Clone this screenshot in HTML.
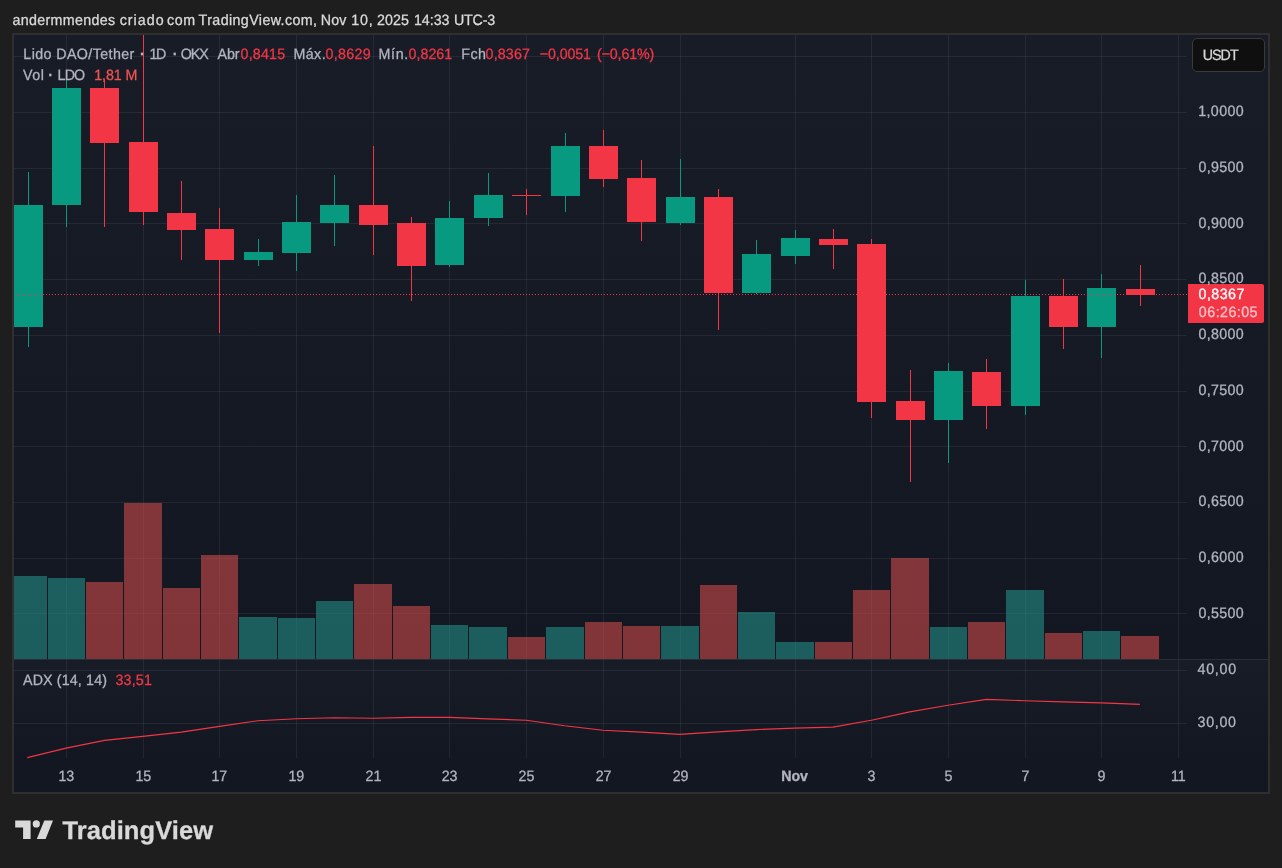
<!DOCTYPE html>
<html lang="pt"><head><meta charset="utf-8"><title>LDOUSDT</title>
<style>
html,body{margin:0;padding:0;}
body{width:1282px;height:868px;background:#1e1e1e;position:relative;overflow:hidden;font-family:"Liberation Sans",Arial,sans-serif;}
.frame{position:absolute;left:12px;top:33px;width:1254px;height:757px;border:2px solid #2f2f2f;}
.txt{position:absolute;left:0;top:0;width:1282px;height:868px;will-change:transform;}
.t{position:absolute;white-space:pre;transform-origin:0 0;-webkit-text-stroke:0.3px currentColor;text-rendering:geometricPrecision;}
.usdt{position:absolute;left:1192px;top:38px;width:71px;height:32px;border:1px solid #3a3a3a;border-radius:5px;background:#0f0f0f;}
.plab{position:absolute;left:1188px;top:284px;width:76px;height:39px;background:#f23645;border-radius:0 2px 2px 0;}
</style></head><body>
<div class="frame"></div>
<svg width="1254" height="757" viewBox="14 35 1254 757" shape-rendering="crispEdges" style="position:absolute;left:14px;top:35px">
<defs><linearGradient id="g1" x1="0" y1="0" x2="0" y2="1"><stop offset="0" stop-color="#181c27"/><stop offset="1" stop-color="#131722"/></linearGradient></defs>
<rect x="14" y="35" width="1254" height="624" fill="url(#g1)"/>
<rect x="14" y="660" width="1254" height="98" fill="url(#g1)"/>
<rect x="14" y="758" width="1254" height="34" fill="#131722"/>
<g fill="rgba(240,243,250,0.065)">
<rect x="66" y="35" width="1" height="624"/><rect x="66" y="660" width="1" height="98"/>
<rect x="143" y="35" width="1" height="624"/><rect x="143" y="660" width="1" height="98"/>
<rect x="219" y="35" width="1" height="624"/><rect x="219" y="660" width="1" height="98"/>
<rect x="296" y="35" width="1" height="624"/><rect x="296" y="660" width="1" height="98"/>
<rect x="373" y="35" width="1" height="624"/><rect x="373" y="660" width="1" height="98"/>
<rect x="449" y="35" width="1" height="624"/><rect x="449" y="660" width="1" height="98"/>
<rect x="526" y="35" width="1" height="624"/><rect x="526" y="660" width="1" height="98"/>
<rect x="603" y="35" width="1" height="624"/><rect x="603" y="660" width="1" height="98"/>
<rect x="680" y="35" width="1" height="624"/><rect x="680" y="660" width="1" height="98"/>
<rect x="795" y="35" width="1" height="624"/><rect x="795" y="660" width="1" height="98"/>
<rect x="871" y="35" width="1" height="624"/><rect x="871" y="660" width="1" height="98"/>
<rect x="948" y="35" width="1" height="624"/><rect x="948" y="660" width="1" height="98"/>
<rect x="1025" y="35" width="1" height="624"/><rect x="1025" y="660" width="1" height="98"/>
<rect x="1101" y="35" width="1" height="624"/><rect x="1101" y="660" width="1" height="98"/>
<rect x="1178" y="35" width="1" height="624"/><rect x="1178" y="660" width="1" height="98"/>
<rect x="14" y="56" width="1173" height="1"/>
<rect x="14" y="112" width="1173" height="1"/>
<rect x="14" y="168" width="1173" height="1"/>
<rect x="14" y="223" width="1173" height="1"/>
<rect x="14" y="279" width="1173" height="1"/>
<rect x="14" y="335" width="1173" height="1"/>
<rect x="14" y="391" width="1173" height="1"/>
<rect x="14" y="446" width="1173" height="1"/>
<rect x="14" y="502" width="1173" height="1"/>
<rect x="14" y="558" width="1173" height="1"/>
<rect x="14" y="613" width="1173" height="1"/>
<rect x="14" y="670" width="1173" height="1"/>
<rect x="14" y="723" width="1173" height="1"/>
</g>
<rect x="14" y="659" width="1254" height="1" fill="#2a2e39"/>
<rect x="14" y="576" width="33" height="83" fill="rgba(38,166,154,0.5)"/>
<rect x="48" y="578" width="37" height="81" fill="rgba(38,166,154,0.5)"/>
<rect x="86" y="582" width="37" height="77" fill="rgba(239,83,80,0.5)"/>
<rect x="124" y="503" width="38" height="156" fill="rgba(239,83,80,0.5)"/>
<rect x="163" y="588" width="37" height="71" fill="rgba(239,83,80,0.5)"/>
<rect x="201" y="555" width="37" height="104" fill="rgba(239,83,80,0.5)"/>
<rect x="239" y="617" width="38" height="42" fill="rgba(38,166,154,0.5)"/>
<rect x="278" y="618" width="37" height="41" fill="rgba(38,166,154,0.5)"/>
<rect x="316" y="601" width="37" height="58" fill="rgba(38,166,154,0.5)"/>
<rect x="354" y="584" width="38" height="75" fill="rgba(239,83,80,0.5)"/>
<rect x="393" y="606" width="37" height="53" fill="rgba(239,83,80,0.5)"/>
<rect x="431" y="625" width="37" height="34" fill="rgba(38,166,154,0.5)"/>
<rect x="469" y="627" width="38" height="32" fill="rgba(38,166,154,0.5)"/>
<rect x="508" y="637" width="37" height="22" fill="rgba(239,83,80,0.5)"/>
<rect x="546" y="627" width="38" height="32" fill="rgba(38,166,154,0.5)"/>
<rect x="585" y="622" width="37" height="37" fill="rgba(239,83,80,0.5)"/>
<rect x="623" y="626" width="37" height="33" fill="rgba(239,83,80,0.5)"/>
<rect x="661" y="626" width="38" height="33" fill="rgba(38,166,154,0.5)"/>
<rect x="700" y="585" width="37" height="74" fill="rgba(239,83,80,0.5)"/>
<rect x="738" y="612" width="37" height="47" fill="rgba(38,166,154,0.5)"/>
<rect x="776" y="642" width="38" height="17" fill="rgba(38,166,154,0.5)"/>
<rect x="815" y="642" width="37" height="17" fill="rgba(239,83,80,0.5)"/>
<rect x="853" y="590" width="37" height="69" fill="rgba(239,83,80,0.5)"/>
<rect x="891" y="558" width="38" height="101" fill="rgba(239,83,80,0.5)"/>
<rect x="930" y="627" width="37" height="32" fill="rgba(38,166,154,0.5)"/>
<rect x="968" y="622" width="37" height="37" fill="rgba(239,83,80,0.5)"/>
<rect x="1006" y="590" width="38" height="69" fill="rgba(38,166,154,0.5)"/>
<rect x="1045" y="633" width="37" height="26" fill="rgba(239,83,80,0.5)"/>
<rect x="1083" y="631" width="37" height="28" fill="rgba(38,166,154,0.5)"/>
<rect x="1121" y="636" width="38" height="23" fill="rgba(239,83,80,0.5)"/>
<rect x="28" y="172" width="1" height="175" fill="#089981"/><rect x="14" y="205" width="29" height="122" fill="#089981"/>
<rect x="66" y="78" width="1" height="149" fill="#089981"/><rect x="52" y="88" width="29" height="117" fill="#089981"/>
<rect x="104" y="80" width="1" height="147" fill="#f23645"/><rect x="90" y="88" width="29" height="55" fill="#f23645"/>
<rect x="143" y="35" width="1" height="190" fill="#f23645"/><rect x="129" y="142" width="29" height="70" fill="#f23645"/>
<rect x="181" y="181" width="1" height="79" fill="#f23645"/><rect x="167" y="213" width="29" height="17" fill="#f23645"/>
<rect x="219" y="208" width="1" height="125" fill="#f23645"/><rect x="205" y="229" width="29" height="31" fill="#f23645"/>
<rect x="258" y="239" width="1" height="27" fill="#089981"/><rect x="244" y="252" width="29" height="8" fill="#089981"/>
<rect x="296" y="195" width="1" height="76" fill="#089981"/><rect x="282" y="222" width="29" height="31" fill="#089981"/>
<rect x="334" y="175" width="1" height="71" fill="#089981"/><rect x="320" y="205" width="29" height="18" fill="#089981"/>
<rect x="373" y="146" width="1" height="109" fill="#f23645"/><rect x="359" y="205" width="29" height="20" fill="#f23645"/>
<rect x="411" y="217" width="1" height="84" fill="#f23645"/><rect x="397" y="223" width="29" height="43" fill="#f23645"/>
<rect x="449" y="201" width="1" height="66" fill="#089981"/><rect x="435" y="218" width="29" height="47" fill="#089981"/>
<rect x="488" y="173" width="1" height="53" fill="#089981"/><rect x="474" y="195" width="29" height="23" fill="#089981"/>
<rect x="526" y="189" width="1" height="26" fill="#f23645"/><rect x="512" y="195" width="29" height="1" fill="#f23645"/>
<rect x="565" y="133" width="1" height="79" fill="#089981"/><rect x="551" y="146" width="29" height="50" fill="#089981"/>
<rect x="603" y="130" width="1" height="57" fill="#f23645"/><rect x="589" y="146" width="29" height="33" fill="#f23645"/>
<rect x="641" y="160" width="1" height="81" fill="#f23645"/><rect x="627" y="178" width="29" height="44" fill="#f23645"/>
<rect x="680" y="159" width="1" height="66" fill="#089981"/><rect x="666" y="197" width="29" height="26" fill="#089981"/>
<rect x="718" y="189" width="1" height="141" fill="#f23645"/><rect x="704" y="197" width="29" height="96" fill="#f23645"/>
<rect x="756" y="240" width="1" height="54" fill="#089981"/><rect x="742" y="254" width="29" height="39" fill="#089981"/>
<rect x="795" y="230" width="1" height="34" fill="#089981"/><rect x="781" y="238" width="29" height="18" fill="#089981"/>
<rect x="833" y="229" width="1" height="40" fill="#f23645"/><rect x="819" y="239" width="29" height="6" fill="#f23645"/>
<rect x="871" y="239" width="1" height="179" fill="#f23645"/><rect x="857" y="244" width="29" height="158" fill="#f23645"/>
<rect x="910" y="370" width="1" height="112" fill="#f23645"/><rect x="896" y="401" width="29" height="19" fill="#f23645"/>
<rect x="948" y="363" width="1" height="100" fill="#089981"/><rect x="934" y="371" width="29" height="49" fill="#089981"/>
<rect x="986" y="359" width="1" height="70" fill="#f23645"/><rect x="972" y="372" width="29" height="34" fill="#f23645"/>
<rect x="1025" y="280" width="1" height="135" fill="#089981"/><rect x="1011" y="296" width="29" height="110" fill="#089981"/>
<rect x="1063" y="279" width="1" height="70" fill="#f23645"/><rect x="1049" y="296" width="29" height="31" fill="#f23645"/>
<rect x="1101" y="274" width="1" height="84" fill="#089981"/><rect x="1087" y="288" width="29" height="39" fill="#089981"/>
<rect x="1140" y="265" width="1" height="41" fill="#f23645"/><rect x="1126" y="289" width="29" height="6" fill="#f23645"/>
<line x1="16" y1="294.5" x2="1188" y2="294.5" stroke="#f23645" stroke-width="1" stroke-dasharray="1 2"/>
<polyline points="27.3,757.6 66.1,748.1 104.5,740.4 142.8,736.4 181.2,732.1 219.5,726.4 257.9,720.7 296.2,718.7 334.5,717.8 372.9,718.2 411.2,717.4 449.6,717.4 487.9,718.9 526.3,720.2 564.6,725.7 602.9,730.3 641.3,732.1 679.6,734.4 718.0,731.9 756.3,729.6 794.7,728.1 833.0,727.1 871.4,720.2 909.7,711.9 948.0,705.2 986.4,699.4 1024.7,700.7 1063.1,701.9 1101.4,702.9 1139.8,704.4" fill="none" stroke="#f23645" stroke-width="1.15" stroke-linejoin="round" shape-rendering="geometricPrecision"/>
</svg>
<div class="usdt"></div>
<div class="plab"></div>
<svg style="position:absolute;left:15px;top:816px" width="38" height="28" viewBox="0 0 38 28"><g fill="#d9d9d9"><path d="M15.6 23H8.1V11.4H0.2V4.4H15.6z"/><circle cx="21.3" cy="7.9" r="3.6"/><path d="M30.6 23h-8.8L29.3 4.4h8.7z"/></g></svg>
<div class="txt">
<span class="t" style="left:12px;top:11px;font-size:15px;line-height:19px;color:#dadada;letter-spacing:0.35px;transform:translateX(0.51px) scaleX(0.95);">andermmendes</span>
<span class="t" style="left:119px;top:11px;font-size:15px;line-height:19px;color:#dadada;letter-spacing:1.08px;transform:translateX(0.63px) scaleX(0.95);">criado</span>
<span class="t" style="left:166px;top:11px;font-size:15px;line-height:19px;color:#dadada;letter-spacing:0.60px;transform:translateX(0.98px) scaleX(0.95);">com</span>
<span class="t" style="left:198px;top:11px;font-size:15px;line-height:19px;color:#dadada;letter-spacing:0.42px;transform:translateX(0.59px) scaleX(0.95);">TradingView.com,</span>
<span class="t" style="left:320px;top:11px;font-size:15px;line-height:19px;color:#dadada;letter-spacing:0.25px;transform:translateX(0.63px) scaleX(0.95);">Nov</span>
<span class="t" style="left:351px;top:11px;font-size:15px;line-height:19px;color:#dadada;letter-spacing:0.78px;transform:translateX(0.36px) scaleX(0.95);">10,</span>
<span class="t" style="left:376px;top:11px;font-size:15px;line-height:19px;color:#dadada;letter-spacing:0.05px;transform:translateX(0.99px) scaleX(0.95);">2025</span>
<span class="t" style="left:413px;top:11px;font-size:15px;line-height:19px;color:#dadada;letter-spacing:-0.02px;transform:translateX(0.90px) scaleX(0.95);">14:33</span>
<span class="t" style="left:453px;top:11px;font-size:15px;line-height:19px;color:#dadada;letter-spacing:-0.20px;transform:translateX(0.95px) scaleX(0.95);">UTC-3</span>
<span class="t" style="left:23px;top:45px;font-size:15px;line-height:19px;color:#b2b5be;letter-spacing:0.42px;transform:translateX(0.36px) scaleX(0.95);">Lido DAO/Tether</span>
<span class="t" style="left:140px;top:45px;font-size:15px;line-height:19px;color:#b2b5be;letter-spacing:0.00px;font-weight:700;transform:translateX(0.10px) scaleX(0.95);">·</span>
<span class="t" style="left:149px;top:45px;font-size:15px;line-height:19px;color:#b2b5be;letter-spacing:-1.33px;transform:translateX(0.41px) scaleX(0.95);">1D</span>
<span class="t" style="left:172px;top:45px;font-size:15px;line-height:19px;color:#b2b5be;letter-spacing:0.00px;font-weight:700;transform:translateX(0.64px) scaleX(0.95);">·</span>
<span class="t" style="left:180px;top:45px;font-size:15px;line-height:19px;color:#b2b5be;letter-spacing:-1.14px;transform:translateX(0.86px) scaleX(0.95);">OKX</span>
<span class="t" style="left:217px;top:45px;font-size:15px;line-height:19px;color:#b2b5be;letter-spacing:-0.12px;transform:translateX(0.61px) scaleX(0.95);">Abr</span>
<span class="t" style="left:240px;top:45px;font-size:15px;line-height:19px;color:#f23645;letter-spacing:0.19px;transform:translateX(0.58px) scaleX(0.95);">0,8415</span>
<span class="t" style="left:293px;top:45px;font-size:15px;line-height:19px;color:#b2b5be;letter-spacing:0.49px;transform:translateX(0.39px) scaleX(0.95);">Máx.</span>
<span class="t" style="left:325px;top:45px;font-size:15px;line-height:19px;color:#f23645;letter-spacing:0.33px;transform:translateX(0.58px) scaleX(0.95);">0,8629</span>
<span class="t" style="left:378px;top:45px;font-size:15px;line-height:19px;color:#b2b5be;letter-spacing:0.67px;transform:translateX(0.59px) scaleX(0.95);">Mín.</span>
<span class="t" style="left:408px;top:45px;font-size:15px;line-height:19px;color:#f23645;letter-spacing:0.01px;transform:translateX(0.58px) scaleX(0.95);">0,8261</span>
<span class="t" style="left:461px;top:45px;font-size:15px;line-height:19px;color:#b2b5be;letter-spacing:0.37px;transform:translateX(0.36px) scaleX(0.95);">Fch</span>
<span class="t" style="left:485px;top:45px;font-size:15px;line-height:19px;color:#f23645;letter-spacing:0.15px;transform:translateX(0.58px) scaleX(0.95);">0,8367</span>
<span class="t" style="left:539px;top:45px;font-size:15px;line-height:19px;color:#f23645;letter-spacing:-0.10px;transform:translateX(0.71px) scaleX(0.95);">−0,0051</span>
<span class="t" style="left:597px;top:45px;font-size:15px;line-height:19px;color:#f23645;letter-spacing:-0.16px;transform:translateX(0.04px) scaleX(0.95);">(−0,61%)</span>
<span class="t" style="left:23px;top:66px;font-size:15px;line-height:19px;color:#b2b5be;letter-spacing:0.55px;transform:translateX(0.11px) scaleX(0.95);">Vol</span>
<span class="t" style="left:48px;top:66px;font-size:15px;line-height:19px;color:#b2b5be;letter-spacing:0.00px;font-weight:700;transform:translateX(0.31px) scaleX(0.95);">·</span>
<span class="t" style="left:57px;top:66px;font-size:15px;line-height:19px;color:#b2b5be;letter-spacing:-0.91px;transform:translateX(0.59px) scaleX(0.95);">LDO</span>
<span class="t" style="left:94px;top:66px;font-size:15px;line-height:19px;color:#ef5350;letter-spacing:-0.10px;transform:translateX(0.24px) scaleX(0.95);">1,81 M</span>
<span class="t" style="left:23px;top:671px;font-size:15px;line-height:19px;color:#b2b5be;letter-spacing:0.15px;transform:translateX(0.02px) scaleX(0.95);">ADX (14, 14)</span>
<span class="t" style="left:115px;top:671px;font-size:15px;line-height:19px;color:#f23645;letter-spacing:0.21px;transform:translateX(0.38px) scaleX(0.95);">33,51</span>
<span class="t" style="left:1198px;top:102px;font-size:15px;line-height:19px;color:#b2b5be;letter-spacing:0.43px;transform:translateX(0.17px) scaleX(0.95);">1,0000</span>
<span class="t" style="left:1198px;top:158px;font-size:15px;line-height:19px;color:#b2b5be;letter-spacing:0.33px;transform:translateX(0.61px) scaleX(0.95);">0,9500</span>
<span class="t" style="left:1198px;top:214px;font-size:15px;line-height:19px;color:#b2b5be;letter-spacing:0.33px;transform:translateX(0.61px) scaleX(0.95);">0,9000</span>
<span class="t" style="left:1198px;top:269px;font-size:15px;line-height:19px;color:#b2b5be;letter-spacing:0.33px;transform:translateX(0.61px) scaleX(0.95);">0,8500</span>
<span class="t" style="left:1198px;top:325px;font-size:15px;line-height:19px;color:#b2b5be;letter-spacing:0.33px;transform:translateX(0.61px) scaleX(0.95);">0,8000</span>
<span class="t" style="left:1198px;top:381px;font-size:15px;line-height:19px;color:#b2b5be;letter-spacing:0.33px;transform:translateX(0.61px) scaleX(0.95);">0,7500</span>
<span class="t" style="left:1198px;top:437px;font-size:15px;line-height:19px;color:#b2b5be;letter-spacing:0.33px;transform:translateX(0.61px) scaleX(0.95);">0,7000</span>
<span class="t" style="left:1198px;top:492px;font-size:15px;line-height:19px;color:#b2b5be;letter-spacing:0.33px;transform:translateX(0.61px) scaleX(0.95);">0,6500</span>
<span class="t" style="left:1198px;top:548px;font-size:15px;line-height:19px;color:#b2b5be;letter-spacing:0.33px;transform:translateX(0.61px) scaleX(0.95);">0,6000</span>
<span class="t" style="left:1198px;top:604px;font-size:15px;line-height:19px;color:#b2b5be;letter-spacing:0.33px;transform:translateX(0.61px) scaleX(0.95);">0,5500</span>
<span class="t" style="left:1197px;top:660px;font-size:15px;line-height:19px;color:#b2b5be;letter-spacing:0.78px;transform:translateX(0.51px) scaleX(0.95);">40,00</span>
<span class="t" style="left:1197px;top:713px;font-size:15px;line-height:19px;color:#b2b5be;letter-spacing:0.71px;transform:translateX(0.61px) scaleX(0.95);">30,00</span>
<span class="t" style="left:1198px;top:285px;font-size:15px;line-height:19px;color:#ffffff;letter-spacing:0.47px;transform:translateX(0.58px) scaleX(0.95);">0,8367</span>
<span class="t" style="left:1198px;top:303px;font-size:15px;line-height:19px;color:#fbc3c8;letter-spacing:0.48px;transform:translateX(0.87px) scaleX(0.95);">06:26:05</span>
<span class="t" style="left:1202px;top:46px;font-size:15px;line-height:19px;color:#d6d6d6;letter-spacing:-1.04px;transform:translateX(0.80px) scaleX(0.95);">USDT</span>
<span class="t" style="left:58px;top:767px;font-size:15px;line-height:19px;color:#b2b5be;letter-spacing:0.00px;transform:translateX(0.43px) scaleX(0.95);">13</span>
<span class="t" style="left:135px;top:767px;font-size:15px;line-height:19px;color:#b2b5be;letter-spacing:0.00px;transform:translateX(0.40px) scaleX(0.95);">15</span>
<span class="t" style="left:211px;top:767px;font-size:15px;line-height:19px;color:#b2b5be;letter-spacing:0.00px;transform:translateX(0.44px) scaleX(0.95);">17</span>
<span class="t" style="left:288px;top:767px;font-size:15px;line-height:19px;color:#b2b5be;letter-spacing:0.00px;transform:translateX(0.41px) scaleX(0.95);">19</span>
<span class="t" style="left:365px;top:767px;font-size:15px;line-height:19px;color:#b2b5be;letter-spacing:0.00px;transform:translateX(0.58px) scaleX(0.95);">21</span>
<span class="t" style="left:441px;top:767px;font-size:15px;line-height:19px;color:#b2b5be;letter-spacing:0.00px;transform:translateX(0.64px) scaleX(0.95);">23</span>
<span class="t" style="left:518px;top:767px;font-size:15px;line-height:19px;color:#b2b5be;letter-spacing:0.00px;transform:translateX(0.54px) scaleX(0.95);">25</span>
<span class="t" style="left:595px;top:767px;font-size:15px;line-height:19px;color:#b2b5be;letter-spacing:0.00px;transform:translateX(0.67px) scaleX(0.95);">27</span>
<span class="t" style="left:672px;top:767px;font-size:15px;line-height:19px;color:#b2b5be;letter-spacing:0.00px;transform:translateX(0.63px) scaleX(0.95);">29</span>
<span class="t" style="left:781px;top:767px;font-size:15px;line-height:19px;color:#b2b5be;letter-spacing:-0.14px;font-weight:700;transform:translateX(0.25px) scaleX(0.95);">Nov</span>
<span class="t" style="left:867px;top:767px;font-size:15px;line-height:19px;color:#b2b5be;letter-spacing:0.00px;transform:translateX(0.42px) scaleX(0.95);">3</span>
<span class="t" style="left:944px;top:767px;font-size:15px;line-height:19px;color:#b2b5be;letter-spacing:0.00px;transform:translateX(0.41px) scaleX(0.95);">5</span>
<span class="t" style="left:1021px;top:767px;font-size:15px;line-height:19px;color:#b2b5be;letter-spacing:0.00px;transform:translateX(0.41px) scaleX(0.95);">7</span>
<span class="t" style="left:1097px;top:767px;font-size:15px;line-height:19px;color:#b2b5be;letter-spacing:0.00px;transform:translateX(0.52px) scaleX(0.95);">9</span>
<span class="t" style="left:1170px;top:767px;font-size:15px;line-height:19px;color:#b2b5be;letter-spacing:0.00px;transform:translateX(0.88px) scaleX(0.95);">11</span>
<span class="t" style="left:62px;top:816px;font-size:25.5px;line-height:30px;color:#d9d9d9;letter-spacing:0.07px;font-weight:700;transform:translateX(0.58px);">TradingView</span>
</div>
</body></html>
